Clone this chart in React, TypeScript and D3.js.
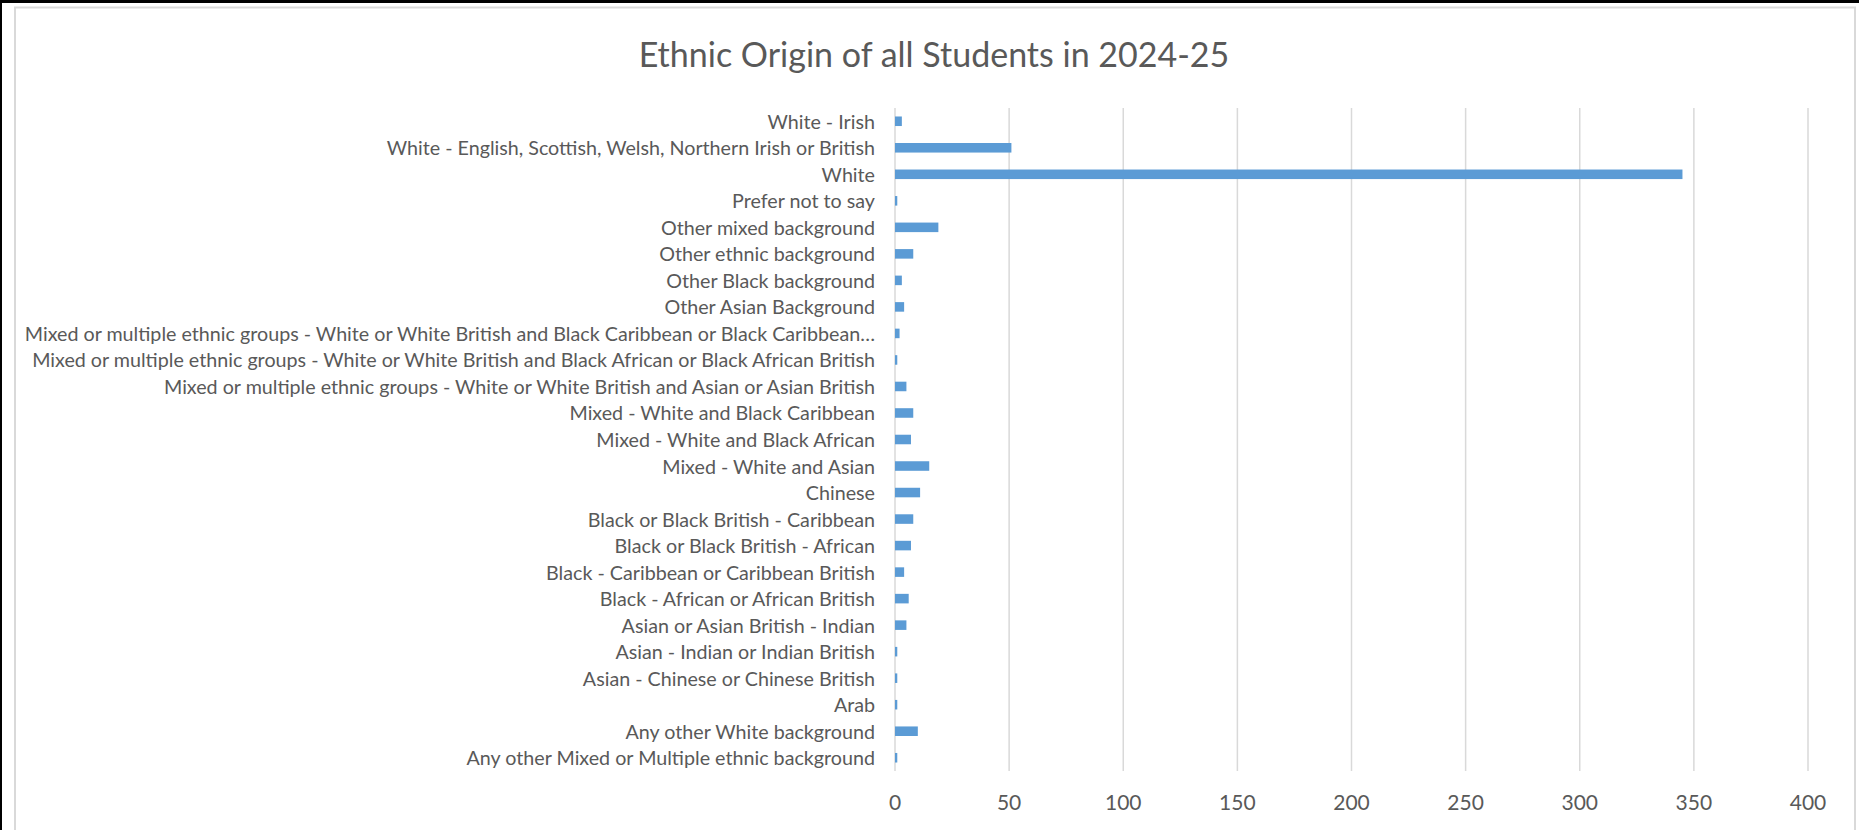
import React from "react";
import * as d3 from "d3";

const categories: string[] = [
  "White - Irish",
  "White - English, Scottish, Welsh, Northern Irish or British",
  "White",
  "Prefer not to say",
  "Other mixed background",
  "Other ethnic background",
  "Other Black background",
  "Other Asian Background",
  "Mixed or multiple ethnic groups - White or White British and Black Caribbean or Black Caribbean…",
  "Mixed or multiple ethnic groups - White or White British and Black African or Black African British",
  "Mixed or multiple ethnic groups - White or White British and Asian or Asian British",
  "Mixed - White and Black Caribbean",
  "Mixed - White and Black African",
  "Mixed - White and Asian",
  "Chinese",
  "Black or Black British - Caribbean",
  "Black or Black British - African",
  "Black - Caribbean or Caribbean British",
  "Black - African or African British",
  "Asian or Asian British - Indian",
  "Asian - Indian or Indian British",
  "Asian - Chinese or Chinese British",
  "Arab",
  "Any other White background",
  "Any other Mixed or Multiple ethnic background",
];

const values: number[] = [
  3, 51, 345, 1, 19, 8, 3, 4, 2, 1, 5, 8, 7, 15, 11, 8, 7, 4, 6, 5, 1, 1, 1, 10, 1,
];

const xTicks: number[] = [0, 50, 100, 150, 200, 250, 300, 350, 400];
const title = "Ethnic Origin of all Students in 2024-25";

export default function App() {
  const W = 1859;
  const H = 830;
  const left = 895;
  const right = 1808;
  const top = 108;
  const bottom = 771;

  const x = d3.scaleLinear().domain([0, 400]).range([left, right]);
  const y = d3
    .scaleBand<string>()
    .domain(categories)
    .range([top, bottom])
    .paddingInner(0.64)
    .paddingOuter(0.32);

  const textColor = "#595959";
  const font = "Lato, 'Open Sans', sans-serif";

  return (
    <svg
      width={W}
      height={H}
      style={{ position: "absolute", left: 0, top: 0, background: "#fff" }}
    >
      <rect x={0} y={0} width={W} height={H} fill="#fff" />
      <rect x={0} y={0} width={W} height={3} fill="#000" />
      <rect x={0} y={0} width={2} height={H} fill="#000" />
      <rect
        x={15}
        y={7.5}
        width={1840}
        height={H + 10}
        fill="none"
        stroke="#d9d9d9"
        strokeWidth={2}
      />
      <text
        x={934}
        y={53}
        textAnchor="middle"
        dominantBaseline="central"
        fontFamily={font}
        fontSize={34}
        fill={textColor}
      >
        {title}
      </text>
      {xTicks.map((t) => (
        <g key={t}>
          <line
            x1={x(t)}
            x2={x(t)}
            y1={top}
            y2={bottom}
            stroke="#d9d9d9"
            strokeWidth={1.5}
          />
          <text
            x={x(t)}
            y={801}
            textAnchor="middle"
            dominantBaseline="central"
            fontFamily={font}
            fontSize={21}
            fill={textColor}
          >
            {t}
          </text>
        </g>
      ))}
      {categories.map((c, i) => (
        <g key={c}>
          <rect
            x={x(0)}
            y={y(c)!}
            width={x(values[i]) - x(0)}
            height={y.bandwidth()}
            fill="#5b9bd5"
          />
          <text
            x={875}
            y={y(c)! + y.bandwidth() / 2}
            textAnchor="end"
            dominantBaseline="central"
            fontFamily={font}
            fontSize={19.7}
            fill={textColor}
          >
            {c}
          </text>
        </g>
      ))}
    </svg>
  );
}
